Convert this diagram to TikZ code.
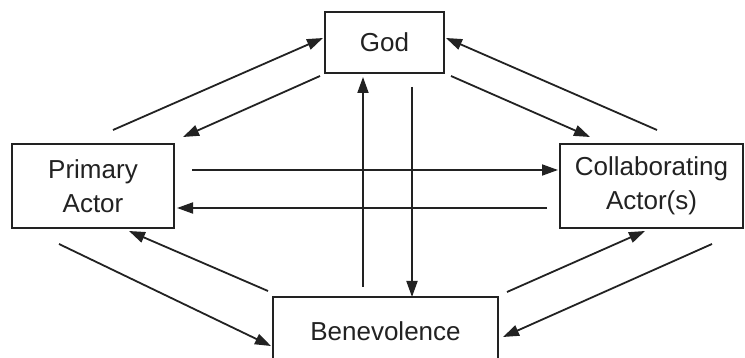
\documentclass[tikz,border=0pt]{standalone}
\usepackage{fontspec}
\setmainfont{Liberation Sans}
\usetikzlibrary{arrows.meta}
\definecolor{ink}{HTML}{222222}
\tikzset{
  box/.style={draw=ink, line width=1.8pt, rectangle, inner sep=0pt, align=center,
    text=ink, font=\fontsize{26}{34}\selectfont},
  conn/.style={draw=ink, line width=1.8pt, -{Triangle[length=16pt,width=11pt]}}
}
\begin{document}
\begin{tikzpicture}[x=1pt,y=-1pt]
\clip (0,0) rectangle (745,358);
\useasboundingbox (0,0) rectangle (745,358);
\fill[white] (0,0) rectangle (745,358);
\node[box, minimum width=119pt, minimum height=61pt] (god) at (384.5,42.5) {God};
\node[box, minimum width=162pt, minimum height=84pt] (prim) at (93,186) {Primary\\Actor};
\node[box, minimum width=183pt, minimum height=84pt] (coll) at (651.5,186) {Collaborating\\Actor(s)};
\node[box, minimum width=225pt, minimum height=68pt] (bene) at (385.5,331) {Benevolence};
% endpoints
\coordinate (a1s) at (113,130); \coordinate (a1e) at (323,38);
\coordinate (a2s) at (320,76);  \coordinate (a2e) at (183,137);
\coordinate (a3s) at (657,130); \coordinate (a3e) at (446,38);
\coordinate (a4s) at (451,76);  \coordinate (a4e) at (590,137);
\coordinate (a5s) at (192,170); \coordinate (a5e) at (558,170);
\coordinate (a6s) at (547,208); \coordinate (a6e) at (177,208);
\coordinate (a7s) at (363,287); \coordinate (a7e) at (363,77);
\coordinate (a8s) at (412,87);  \coordinate (a8e) at (412,297);
\coordinate (a9s) at (59,244);  \coordinate (a9e) at (271,346);
\coordinate (a10s) at (268,291); \coordinate (a10e) at (129,231);
\coordinate (a11s) at (507,292); \coordinate (a11e) at (645,231);
\coordinate (a12s) at (712,244); \coordinate (a12e) at (503,337);
\foreach \i in {1,...,12} \draw[conn] (a\i s) -- (a\i e);
\end{tikzpicture}
\end{document}
